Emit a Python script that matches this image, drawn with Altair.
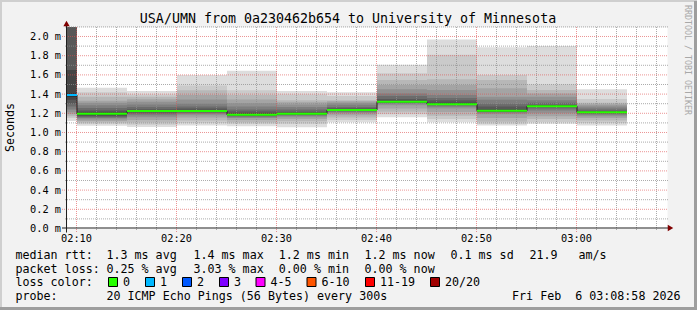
import altair as alt
import pandas as pd

# ---------------- data (time = minutes after 02:00, values in ms) ----------------
seg_start = [5, 10, 15, 20, 25, 30, 35, 40, 45, 50, 55, 60]
seg_minutes = 5
median_ms = [1.39, 1.195, 1.224, 1.224, 1.184, 1.195, 1.235, 1.319, 1.295, 1.226, 1.274, 1.21]
seg_loss_idx = [1, 0, 0, 0, 0, 0, 0, 0, 0, 0, 0, 0]

pings_0205 = [1.12, 1.15, 1.17, 1.19, 1.21, 1.24, 1.27, 1.30, 1.34, 1.37, 1.41, 1.65, 2.3, 2.6, 2.9, 3.2, 3.6, 4.0, 5.0, 6.0]
pings_0210 = [1.07, 1.09, 1.105, 1.12, 1.135, 1.15, 1.16, 1.17, 1.18, 1.19, 1.20, 1.21, 1.23, 1.256, 1.284, 1.31, 1.33, 1.372, 1.418, 1.466]
pings_0215 = [1.056, 1.08, 1.105, 1.13, 1.16, 1.18, 1.196, 1.205, 1.215, 1.222, 1.226, 1.232, 1.242, 1.266, 1.292, 1.319, 1.347, 1.372, 1.397, 1.432]
pings_0220 = [1.074, 1.098, 1.126, 1.155, 1.18, 1.195, 1.205, 1.212, 1.218, 1.222, 1.226, 1.235, 1.25, 1.27, 1.30, 1.344, 1.39, 1.44, 1.49, 1.60]
pings_0225 = [1.066, 1.09, 1.108, 1.13, 1.15, 1.16, 1.17, 1.177, 1.182, 1.185, 1.188, 1.20, 1.22, 1.239, 1.27, 1.305, 1.345, 1.39, 1.44, 1.642]
pings_0230 = [1.055, 1.09, 1.118, 1.14, 1.16, 1.172, 1.182, 1.188, 1.192, 1.195, 1.198, 1.205, 1.215, 1.24, 1.266, 1.292, 1.315, 1.337, 1.397, 1.432]
pings_0235 = [1.108, 1.13, 1.155, 1.18, 1.20, 1.21, 1.218, 1.224, 1.228, 1.231, 1.234, 1.24, 1.252, 1.265, 1.29, 1.31, 1.325, 1.337, 1.379, 1.418]
pings_0240 = [1.16, 1.19, 1.215, 1.25, 1.284, 1.30, 1.31, 1.315, 1.318, 1.32, 1.322, 1.33, 1.35, 1.38, 1.405, 1.45, 1.495, 1.547, 1.618, 1.705]
pings_0245 = [1.108, 1.14, 1.175, 1.213, 1.25, 1.268, 1.28, 1.287, 1.292, 1.294, 1.296, 1.31, 1.335, 1.36, 1.39, 1.442, 1.495, 1.554, 1.81, 1.968]
pings_0250 = [1.074, 1.09, 1.112, 1.15, 1.19, 1.205, 1.215, 1.22, 1.222, 1.224, 1.226, 1.24, 1.27, 1.30, 1.34, 1.372, 1.46, 1.547, 1.60, 1.887]
pings_0255 = [1.09, 1.11, 1.14, 1.17, 1.20, 1.23, 1.25, 1.262, 1.268, 1.272, 1.276, 1.285, 1.29, 1.31, 1.337, 1.372, 1.405, 1.442, 1.50, 1.90]
pings_0300 = [1.074, 1.10, 1.125, 1.15, 1.17, 1.185, 1.195, 1.20, 1.205, 1.209, 1.211, 1.215, 1.225, 1.24, 1.26, 1.28, 1.295, 1.31, 1.35, 1.45]
seg_pings = [pings_0205, pings_0210, pings_0215, pings_0220, pings_0225, pings_0230,
             pings_0235, pings_0240, pings_0245, pings_0250, pings_0255, pings_0300]

x_major = [10, 20, 30, 40, 50, 60]
x_major_labels = ["02:10", "02:20", "02:30", "02:40", "02:50", "03:00"]
x_minor = [m for m in range(10, 69, 2) if m not in x_major]
y_major = [0.2, 0.4, 0.6, 0.8, 1.0, 1.2, 1.4, 1.6, 1.8, 2.0]
y_minor = [0.1, 0.3, 0.5, 0.7, 0.9, 1.1, 1.3, 1.5, 1.7, 1.9, 2.1]
y_label_values = [0.0, 0.2, 0.4, 0.6, 0.8, 1.0, 1.2, 1.4, 1.6, 1.8, 2.0]
y_labels = ["0.0 m", "0.2 m", "0.4 m", "0.6 m", "0.8 m", "1.0 m", "1.2 m", "1.4 m", "1.6 m", "1.8 m", "2.0 m"]

title_text = "USA/UMN from 0a230462b654 to University of Minnesota"
y_title = "Seconds"
watermark = "RRDTOOL / TOBI OETIKER"
rtt_head = "median rtt:"
rtt_items = ["1.3 ms avg", "1.4 ms max", "1.2 ms min", "1.2 ms now", "0.1 ms sd", "21.9", "am/s"]
loss_head = "packet loss:"
loss_items = ["0.25 % avg", "3.03 % max", "0.00 % min", "0.00 % now"]
lc_head = "loss color:"
lc_labels = ["0", "1", "2", "3", "4-5", "6-10", "11-19", "20/20"]
lc_colors = ["#26ff00", "#00b8ff", "#0059ff", "#7e00ff", "#ff00ff", "#ff5500", "#ff0000", "#a10000"]
probe_head = "probe:"
probe_text = "20 ICMP Echo Pings (56 Bytes) every 300s"
date_text = "Fri Feb\u00a0 6 03:08:58 2026"

# ---------------- layout ----------------
PL, PT = 67, 27
W, H = 600, 201.5
MONO = "DejaVu Sans Mono"
xs = alt.Scale(domain=[9, 69], nice=False, zero=False)
ys = alt.Scale(domain=[0, 2.0989], nice=False, zero=False)

def gray(i):
    v = int(190 / 10 * (10 - i)) + 50
    return "#" + ("%02x" % v) * 3

rows = []
for s, p in zip(seg_start, seg_pings):
    for i in range(1, 11):
        rows.append(dict(t0=s, t1=s + seg_minutes, lo=p[i - 1], hi=p[20 - i], c=gray(i)))
smoke = alt.Chart(pd.DataFrame(rows)).mark_rect(clip=True).encode(
    x=alt.X("t0:Q", scale=xs, axis=None), x2="t1:Q",
    y=alt.Y("lo:Q", scale=ys, axis=None), y2="hi:Q",
    color=alt.Color("c:N", scale=None))

GRID = "#8f8f8f"
MGRID = "#de4f4f"
gx_minor = alt.Chart(pd.DataFrame({"t": x_minor})).mark_rule(
    color=GRID, opacity=0.75, strokeDash=[1, 1], xOffset=-0.5).encode(
    x=alt.X("t:Q", scale=xs, axis=None), y=alt.value(0), y2=alt.value(H + 2))
gx_major = alt.Chart(pd.DataFrame({"t": x_major})).mark_rule(
    color=MGRID, opacity=0.6, strokeDash=[1, 1], xOffset=-0.5).encode(
    x=alt.X("t:Q", scale=xs, axis=None), y=alt.value(0), y2=alt.value(H + 4))
gy_minor = alt.Chart(pd.DataFrame({"v": y_minor})).mark_rule(
    color=GRID, opacity=0.75, strokeDash=[1, 1]).encode(
    y=alt.Y("v:Q", scale=ys, axis=None), x=alt.value(-2), x2=alt.value(601))
gy_major = alt.Chart(pd.DataFrame({"v": y_major})).mark_rule(
    color=MGRID, opacity=0.6, strokeDash=[1, 1]).encode(
    y=alt.Y("v:Q", scale=ys, axis=None), x=alt.value(-5), x2=alt.value(601))

med_pts = pd.DataFrame({"t": seg_start + [seg_start[-1] + seg_minutes],
                        "m": median_ms + [median_ms[-1]]})
med_dark = alt.Chart(med_pts).mark_line(interpolate="step-after", color="#202020",
                                        strokeWidth=1, clip=True).encode(
    x=alt.X("t:Q", scale=xs, axis=None), y=alt.Y("m:Q", scale=ys, axis=None))
med_df = pd.DataFrame({"t0": seg_start, "t1": [s + seg_minutes for s in seg_start],
                       "m": median_ms, "c": [lc_colors[i] for i in seg_loss_idx]})
med_col = alt.Chart(med_df).mark_rule(strokeWidth=2, clip=True).encode(
    x=alt.X("t0:Q", scale=xs, axis=None), x2="t1:Q",
    y=alt.Y("m:Q", scale=ys, axis=None), color=alt.Color("c:N", scale=None))

AXIS = "#1f1f1f"
ARROW = "#800000"
one = pd.DataFrame({"a": [0]})
x_axis = alt.Chart(one).mark_rule(color=AXIS, strokeWidth=1).encode(
    x=alt.value(-5), x2=alt.value(601), y=alt.value(H - 0.5))
y_axis = alt.Chart(one).mark_rule(color=AXIS, strokeWidth=1).encode(
    x=alt.value(-0.5), y=alt.value(H + 4), y2=alt.value(-1))
x_arrow = alt.Chart(one).mark_point(shape="triangle-right", filled=True, color=ARROW,
                                    size=40, opacity=1).encode(
    x=alt.value(603.5), y=alt.value(H - 0.5))
y_arrow = alt.Chart(one).mark_point(shape="triangle-up", filled=True, color=ARROW,
                                    size=40, opacity=1).encode(
    x=alt.value(-0.5), y=alt.value(-3.5))

ylab = alt.Chart(pd.DataFrame({"v": y_label_values, "s": y_labels})).mark_text(
    font=MONO, fontSize=10.3, align="right", baseline="middle", color="#000000", dy=0.5).encode(
    y=alt.Y("v:Q", scale=ys, axis=None), x=alt.value(-6), text="s:N")
xlab = alt.Chart(pd.DataFrame({"t": x_major, "s": x_major_labels})).mark_text(
    font=MONO, fontSize=10.3, align="center", baseline="alphabetic", color="#000000", dx=-0.5).encode(
    x=alt.X("t:Q", scale=xs, axis=None), y=alt.value(241.5 - PT), text="s:N")

def txt(items, xs_abs, y_base, align="left"):
    df = pd.DataFrame({"s": items, "px": [x - PL for x in xs_abs], "py": [y_base - PT] * len(items)})
    return alt.Chart(df).mark_text(font=MONO, fontSize=11.66, align=align,
                                   baseline="alphabetic", color="#000000").encode(
        x=alt.X("px:Q", scale=None), y=alt.Y("py:Q", scale=None), text="s:N")

title = alt.Chart(pd.DataFrame({"s": [title_text]})).mark_text(
    font=MONO, fontSize=13.3, align="center", baseline="alphabetic", color="#000000").encode(
    x=alt.value(348 - PL), y=alt.value(23.3 - PT), text="s:N")
ytitle = alt.Chart(pd.DataFrame({"s": [y_title]})).mark_text(
    font=MONO, fontSize=11.66, align="center", baseline="middle", angle=270, color="#000000").encode(
    x=alt.value(11 - PL), y=alt.value(127.5 - PT), text="s:N")
wm = alt.Chart(pd.DataFrame({"s": [watermark]})).mark_text(
    font=MONO, fontSize=8.3, align="center", baseline="middle", angle=90, color="#a8a8a8").encode(
    x=alt.value(686.7 - PL), y=alt.value(60 - PT), text="s:N")

line1 = txt([rtt_head] + rtt_items, [15.5, 106.5, 193.5, 278.8, 364.5, 450.5, 529.5, 578.5], 258.5)
line2 = txt([loss_head] + loss_items, [15.5, 106.5, 193.5, 278.8, 364.5], 272.5)
box_left = [108.5, 145.5, 182.5, 219.5, 256.0, 307.0, 365.5, 430.5]
line3 = txt([lc_head] + lc_labels, [15.5] + [b + 14.5 for b in box_left], 286.3)
line4 = txt([probe_head, probe_text], [15.5, 106.5], 300.3)
line4r = txt([date_text], [680.5], 300.3, align="right")
boxes = alt.Chart(pd.DataFrame({"x0": [b - PL for b in box_left],
                                "x1": [b + 9 - PL for b in box_left],
                                "y0": [277.5 - PT] * 8, "y1": [286.5 - PT] * 8,
                                "c": lc_colors})).mark_rect(stroke="#000000", strokeWidth=1).encode(
    x=alt.X("x0:Q", scale=None), x2="x1:Q", y=alt.Y("y0:Q", scale=None), y2="y1:Q",
    color=alt.Color("c:N", scale=None))

# frame shading
shade_a = alt.Chart(one).mark_rule(color="#cfcfcf", strokeWidth=2).encode(
    x=alt.value(-PL), x2=alt.value(697 - PL), y=alt.value(1 - PT))
shade_a2 = alt.Chart(one).mark_rule(color="#cfcfcf", strokeWidth=2).encode(
    x=alt.value(1 - PL), y=alt.value(-PT), y2=alt.value(310 - PT))
shade_b = alt.Chart(one).mark_rule(color="#9e9e9e", strokeWidth=3).encode(
    x=alt.value(-PL), x2=alt.value(697 - PL), y=alt.value(308.5 - PT))
shade_b2 = alt.Chart(one).mark_rule(color="#9e9e9e", strokeWidth=3).encode(
    x=alt.value(695.5 - PL), y=alt.value(1 - PT), y2=alt.value(310 - PT))

chart = alt.layer(
    smoke, gx_minor, gy_minor, gx_major, gy_major, med_dark, med_col,
    x_axis, y_axis, x_arrow, y_arrow, ylab, xlab, title, ytitle, wm,
    line1, line2, line3, line4, line4r, boxes,
    shade_a, shade_a2, shade_b, shade_b2,
).properties(
    width=W, height=H,
    padding={"left": PL, "top": PT, "right": 697 - PL - W, "bottom": 310 - PT - H},
    autosize=alt.AutoSizeParams(type="none"),
    background="#f2f2f2",
).configure_view(fill="white", stroke="transparent")

chart.save("out.html", embed_options={"renderer": "svg", "actions": False})
